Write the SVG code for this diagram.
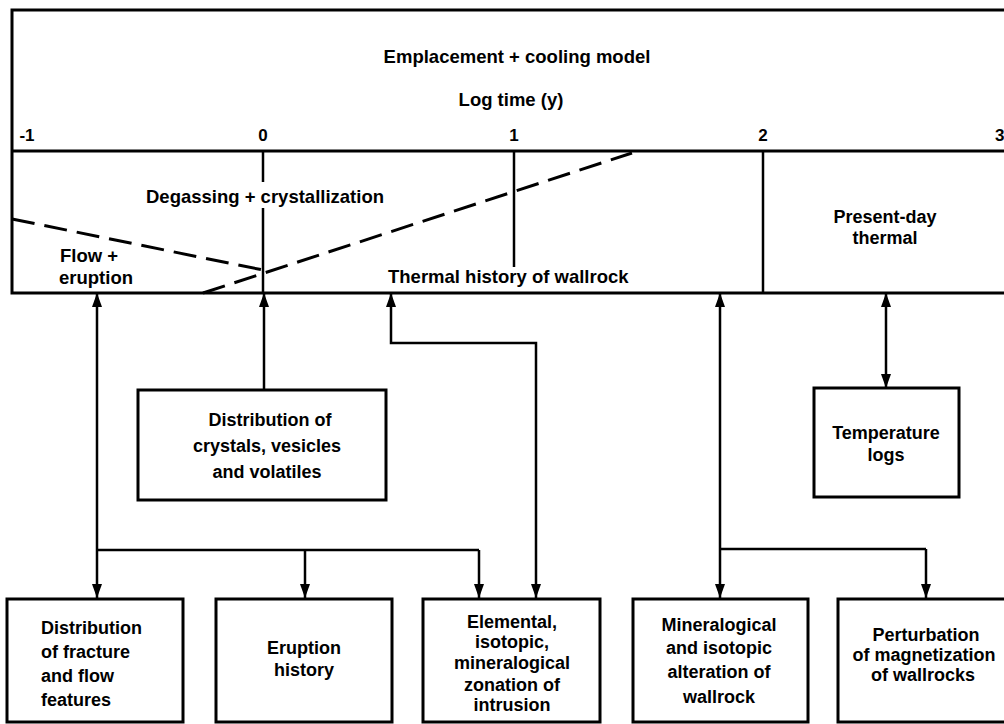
<svg xmlns="http://www.w3.org/2000/svg" width="1004" height="724" viewBox="0 0 1004 724">
<style>
text{font-family:"Liberation Sans",Arial,sans-serif;font-weight:bold;fill:#000;font-size:18.5px}
.c{text-anchor:middle}
.frame{fill:none;stroke:#000;stroke-width:3}
.v{stroke:#000;stroke-width:2.5;fill:none}
.dash{stroke:#000;stroke-width:3;stroke-dasharray:23 10;fill:none}
.box{fill:#fff;stroke:#000;stroke-width:3}
.con{fill:none;stroke:#000;stroke-width:2.5}
.ah{marker-end:url(#a)}
.as{marker-start:url(#a)}
.tick{font-size:17px}
.bt{font-size:18px}
</style>
<defs>
<marker id="a" markerUnits="userSpaceOnUse" markerWidth="16" markerHeight="12" refX="14" refY="5" orient="auto-start-reverse">
<path d="M0,0 L14,5 L0,10 z" fill="#000"/>
</marker>
</defs>
<rect width="1004" height="724" fill="#fff"/>
<g id="timeline">
<path class="frame" d="M1010,10 H12 V293 H1010"/>
<line class="frame" x1="12" y1="151" x2="1010" y2="151"/>
<line class="v" x1="263" y1="151" x2="263" y2="182"/>
<line class="v" x1="263" y1="208" x2="263" y2="293"/>
<line class="v" x1="514" y1="151" x2="514" y2="267"/>
<line class="v" x1="763" y1="151" x2="763" y2="293"/>
<line class="dash" x1="12" y1="219" x2="263" y2="270"/>
<line class="dash" x1="203" y1="293" x2="632" y2="153"/>
<text class="c" x="517" y="63">Emplacement + cooling model</text>
<text class="c" x="511" y="106">Log time (y)</text>
<text class="c tick" x="27" y="141">-1</text>
<text class="c tick" x="263" y="141">0</text>
<text class="c tick" x="514" y="141">1</text>
<text class="c tick" x="763" y="141">2</text>
<text class="tick" x="995" y="141">3</text>
<text class="c" x="265" y="203">Degassing + crystallization</text>
<text x="60" y="262">Flow +</text>
<text x="59" y="284">eruption</text>
<text x="388" y="283">Thermal history of wallrock</text>
<text class="c bt" x="885" y="223">Present-day</text>
<text class="c bt" x="885" y="244">thermal</text>
</g>
<g id="connectors">
<path class="con ah as" d="M97,293 V598"/>
<path class="con ah" d="M264,390 V293"/>
<path class="con ah as" d="M391,293 V343 H536 V598"/>
<path class="con" d="M97,550 H479"/>
<path class="con ah" d="M305,550 V598"/>
<path class="con ah" d="M479,550 V598"/>
<path class="con ah as" d="M720,293 V598"/>
<path class="con" d="M720,549 H926"/>
<path class="con ah" d="M926,549 V598"/>
<path class="con ah as" d="M886,293 V388"/>
</g>
<g id="n-crystals">
<rect class="box" x="138" y="390" width="248" height="110"/>
<text class="c bt" x="270" y="426">Distribution of</text>
<text class="c bt" x="267" y="452">crystals, vesicles</text>
<text class="c bt" x="267" y="478">and volatiles</text>
</g>
<g id="n-temp">
<rect class="box" x="814" y="388" width="145" height="109"/>
<text class="c bt" x="886" y="439">Temperature</text>
<text class="c bt" x="886" y="461">logs</text>
</g>
<g id="n-fracture">
<rect class="box" x="7" y="599" width="176" height="123"/>
<text class="bt" x="41" y="634">Distribution</text>
<text class="bt" x="41" y="658">of fracture</text>
<text class="bt" x="41" y="682">and flow</text>
<text class="bt" x="41" y="706">features</text>
</g>
<g id="n-eruption">
<rect class="box" x="216" y="599" width="176" height="123"/>
<text class="c bt" x="304" y="654">Eruption</text>
<text class="c bt" x="304" y="676">history</text>
</g>
<g id="n-zonation">
<rect class="box" x="423" y="599" width="177" height="123"/>
<text class="c bt" x="512" y="628">Elemental,</text>
<text class="c bt" x="512" y="648">isotopic,</text>
<text class="c bt" x="512" y="669">mineralogical</text>
<text class="c bt" x="512" y="691">zonation of</text>
<text class="c bt" x="512" y="711">intrusion</text>
</g>
<g id="n-alteration">
<rect class="box" x="633" y="599" width="175" height="123"/>
<text class="c bt" x="719" y="631">Mineralogical</text>
<text class="c bt" x="719" y="654">and isotopic</text>
<text class="c bt" x="719" y="678">alteration of</text>
<text class="c bt" x="719" y="703">wallrock</text>
</g>
<g id="n-magnet">
<rect class="box" x="838" y="599" width="180" height="123"/>
<text class="c bt" x="926" y="641">Perturbation</text>
<text class="c bt" x="924" y="661">of magnetization</text>
<text class="c bt" x="923" y="681">of wallrocks</text>
</g>
</svg>
